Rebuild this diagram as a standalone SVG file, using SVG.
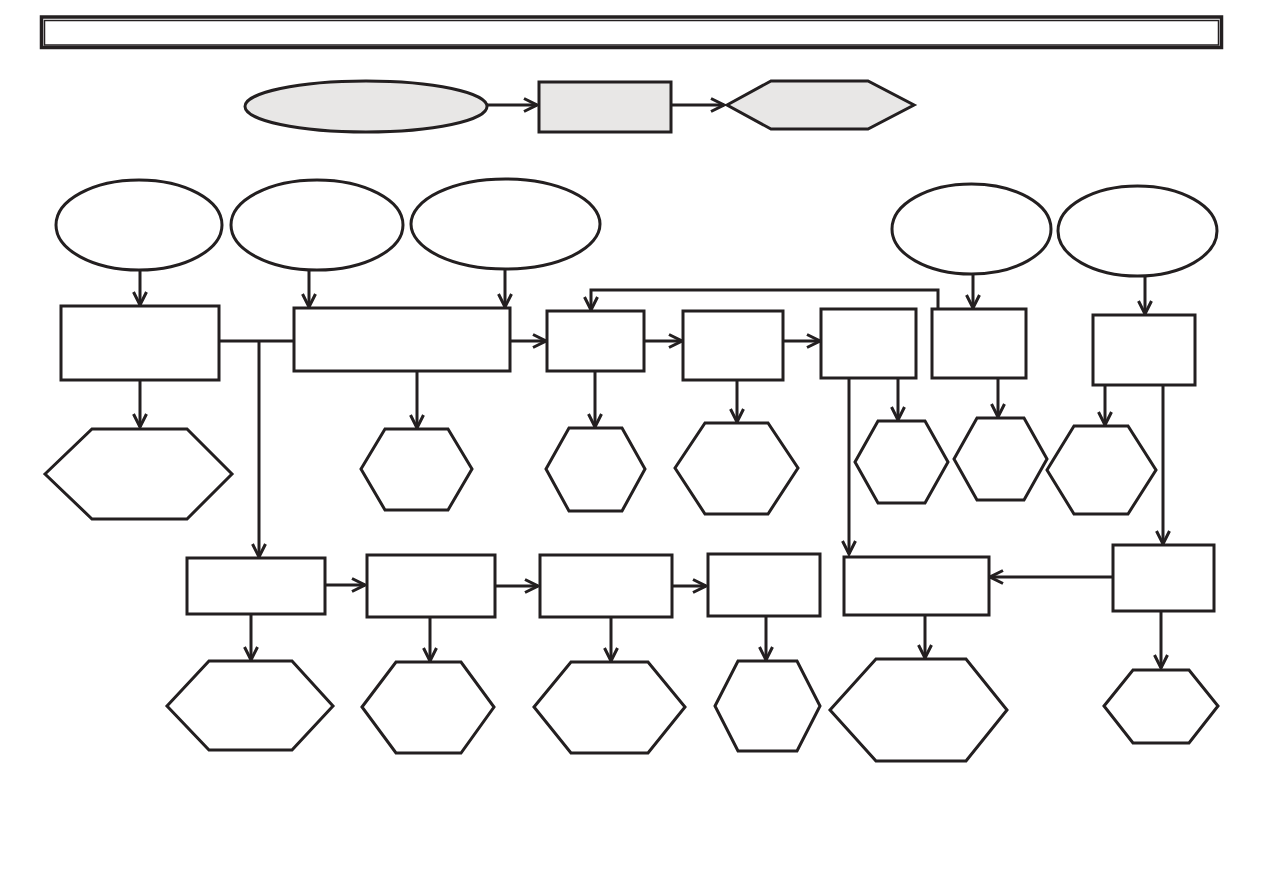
<svg xmlns="http://www.w3.org/2000/svg" width="1263" height="893" viewBox="0 0 1263 893">
<style>
.n{fill:#fff;stroke:#231f20;stroke-width:3}
.g{fill:#e8e7e6;stroke:#231f20;stroke-width:3}
.c{fill:none;stroke:#231f20;stroke-width:3}
.a{fill:none;stroke:#231f20;stroke-width:3;marker-end:url(#ah)}
</style>
<defs>
<marker id="ah" markerUnits="userSpaceOnUse" viewBox="0 0 16 16" refX="14.5" refY="8" markerWidth="16" markerHeight="16" orient="auto">
<path d="M1.5,1.5 L14.5,8 L1.5,14.5" fill="none" stroke="#231f20" stroke-width="3"/>
</marker>
</defs>
<rect width="1263" height="893" fill="#fff"/>
<g id="title">
<rect x="41.5" y="17" width="1180" height="30.5" fill="none" stroke="#231f20" stroke-width="3.5"/>
<rect x="44.5" y="20.5" width="1174" height="24.5" fill="none" stroke="#231f20" stroke-width="1.5"/>
</g>
<g id="legend-ellipse"><ellipse class="g" cx="366" cy="106.5" rx="121" ry="25.5"/></g>
<g id="legend-rect"><rect class="g" x="539" y="82" width="132" height="50"/></g>
<g id="legend-hex"><polygon class="g" points="727,105 771,81 868,81 914,105 868,129 771,129"/></g>
<g id="e1"><ellipse class="n" cx="139" cy="225" rx="83" ry="45"/></g>
<g id="e2"><ellipse class="n" cx="317" cy="225" rx="86" ry="45"/></g>
<g id="e3"><ellipse class="n" cx="505.5" cy="224" rx="94.5" ry="45"/></g>
<g id="e4"><ellipse class="n" cx="971.5" cy="229" rx="79.5" ry="45"/></g>
<g id="e5"><ellipse class="n" cx="1137.5" cy="231" rx="79.5" ry="45"/></g>
<g id="r1"><rect class="n" x="61" y="306" width="158" height="74"/></g>
<g id="r2"><rect class="n" x="294" y="308" width="216" height="63"/></g>
<g id="r3"><rect class="n" x="547" y="311" width="97" height="60"/></g>
<g id="r4"><rect class="n" x="683" y="311" width="100" height="69"/></g>
<g id="r5"><rect class="n" x="821" y="309" width="95" height="69"/></g>
<g id="r6"><rect class="n" x="932" y="309" width="94" height="69"/></g>
<g id="r7"><rect class="n" x="1093" y="315" width="102" height="70"/></g>
<g id="r8"><rect class="n" x="187" y="558" width="138" height="56"/></g>
<g id="r9"><rect class="n" x="367" y="555" width="128" height="62"/></g>
<g id="r10"><rect class="n" x="540" y="555" width="132" height="62"/></g>
<g id="r11"><rect class="n" x="708" y="554" width="112" height="62"/></g>
<g id="r12"><rect class="n" x="844" y="557" width="145" height="58"/></g>
<g id="r13"><rect class="n" x="1113" y="545" width="101" height="66"/></g>
<g id="h1"><polygon class="n" points="45,474 92,429 187,429 232,474 187,519 92,519"/></g>
<g id="h2"><polygon class="n" points="361,469 385,429 448,429 472,469 448,510 385,510"/></g>
<g id="h3"><polygon class="n" points="546,469 569,428 622,428 645,469 622,511 569,511"/></g>
<g id="h4"><polygon class="n" points="675,468 705,423 768,423 798,468 768,514 705,514"/></g>
<g id="h5"><polygon class="n" points="855,462 878,421 925,421 948,462 925,503 878,503"/></g>
<g id="h6"><polygon class="n" points="954,459 977,418 1024,418 1047,459 1024,500 977,500"/></g>
<g id="h7"><polygon class="n" points="1047,470 1074,426 1128,426 1156,470 1128,514 1074,514"/></g>
<g id="h8"><polygon class="n" points="167,706 209,661 292,661 333,706 292,750 209,750"/></g>
<g id="h9"><polygon class="n" points="362,707 396,662 461,662 494,707 461,753 396,753"/></g>
<g id="h10"><polygon class="n" points="534,707 571,662 648,662 685,707 648,753 571,753"/></g>
<g id="h11"><polygon class="n" points="715,706 738,661 797,661 820,706 797,751 738,751"/></g>
<g id="h12"><polygon class="n" points="830,710 876,659 966,659 1007,710 966,761 876,761"/></g>
<g id="h13"><polygon class="n" points="1104,706 1133,670 1189,670 1218,706 1189,743 1133,743"/></g>
<g id="connectors">
<path class="a" d="M487,105 H537"/>
<path class="a" d="M671,105 H724"/>
<path class="a" d="M140,270 V305"/>
<path class="a" d="M309,270 V307"/>
<path class="a" d="M505,269 V307"/>
<path class="a" d="M973,274 V308"/>
<path class="a" d="M1145,276 V314"/>
<path class="c" d="M219,341 H294"/>
<path class="a" d="M259,341 V557"/>
<path class="a" d="M510,341 H546"/>
<path class="a" d="M644,341 H682"/>
<path class="a" d="M783,341 H820"/>
<path class="a" d="M938,309 V290 H591 V310"/>
<path class="a" d="M140,380 V427"/>
<path class="a" d="M417,371 V428"/>
<path class="a" d="M595,371 V427"/>
<path class="a" d="M737,380 V422"/>
<path class="a" d="M849,378 V554"/>
<path class="a" d="M898,378 V420"/>
<path class="a" d="M998,378 V417"/>
<path class="a" d="M1105,385 V425"/>
<path class="a" d="M1163,385 V544"/>
<path class="a" d="M1113,577 H990"/>
<path class="a" d="M1161,611 V668"/>
<path class="a" d="M925,615 V658"/>
<path class="a" d="M325,585 H365"/>
<path class="a" d="M495,586 H538"/>
<path class="a" d="M672,586 H706"/>
<path class="a" d="M251,614 V660"/>
<path class="a" d="M430,617 V661"/>
<path class="a" d="M611,617 V661"/>
<path class="a" d="M766,616 V660"/>
</g>
</svg>
